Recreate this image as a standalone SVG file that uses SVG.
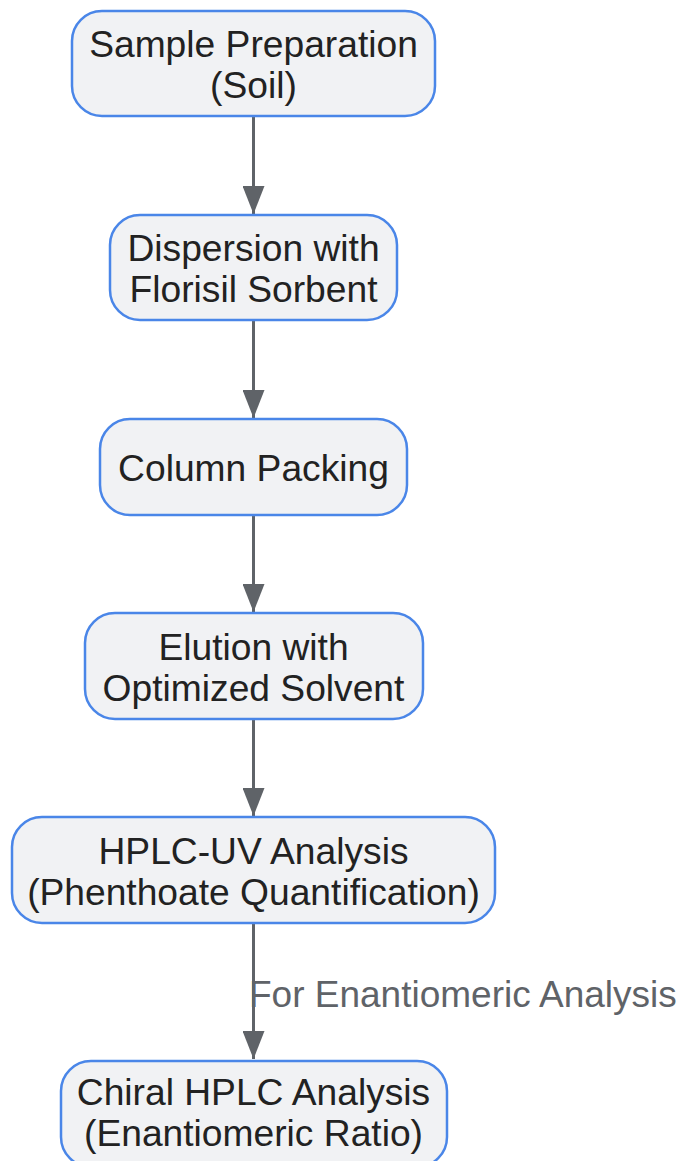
<svg xmlns="http://www.w3.org/2000/svg" width="682" height="1161" viewBox="0 0 682 1161">
<style>
.node rect{fill:#f1f2f4;stroke:#4a86e8;stroke-width:2.5}
.node text{font-family:"Liberation Sans",Arial,sans-serif;font-size:37.2px;fill:#222222;text-anchor:middle}
.edge{stroke:#5f6368;stroke-width:3;fill:none}
.elabel{font-family:"Liberation Sans",Arial,sans-serif;font-size:37px;fill:#5f6368}
</style>
<defs>
<marker id="arr" markerUnits="userSpaceOnUse" markerWidth="28" markerHeight="22" refX="28" refY="11" orient="auto">
<path d="M0,0 L28,11 L0,22 z" fill="#5f6368"/>
</marker>
</defs>
<rect width="682" height="1161" fill="#ffffff"/>
<g id="connectors">
<line class="edge" x1="253.5" y1="116" x2="253.5" y2="214" marker-end="url(#arr)"/>
<line class="edge" x1="253.5" y1="320" x2="253.5" y2="418" marker-end="url(#arr)"/>
<line class="edge" x1="253.5" y1="515" x2="253.5" y2="612" marker-end="url(#arr)"/>
<line class="edge" x1="253.5" y1="719" x2="253.5" y2="816" marker-end="url(#arr)"/>
<line class="edge" x1="253.5" y1="923" x2="253.5" y2="1059" marker-end="url(#arr)"/>
<text class="elabel" x="249" y="1007">For Enantiomeric Analysis</text>
</g>
<g id="n1" class="node">
<rect x="72" y="11" width="363" height="105" rx="30" ry="30"/>
<text x="253.5" y="57">Sample Preparation</text>
<text x="253.5" y="98">(Soil)</text>
</g>
<g id="n2" class="node">
<rect x="110" y="215" width="287" height="105" rx="30" ry="30"/>
<text x="253.5" y="261">Dispersion with</text>
<text x="253.5" y="302">Florisil Sorbent</text>
</g>
<g id="n3" class="node">
<rect x="100" y="419" width="307" height="96" rx="30" ry="30"/>
<text x="253.5" y="481">Column Packing</text>
</g>
<g id="n4" class="node">
<rect x="85" y="613" width="338" height="106" rx="30" ry="30"/>
<text x="253.5" y="660">Elution with</text>
<text x="253.5" y="701">Optimized Solvent</text>
</g>
<g id="n5" class="node">
<rect x="12" y="817" width="483" height="106" rx="30" ry="30"/>
<text x="253.5" y="864">HPLC-UV Analysis</text>
<text x="253.5" y="905">(Phenthoate Quantification)</text>
</g>
<g id="n6" class="node">
<rect x="61" y="1061" width="386" height="106" rx="30" ry="30"/>
<text x="253.5" y="1105">Chiral HPLC Analysis</text>
<text x="253.5" y="1146">(Enantiomeric Ratio)</text>
</g>
</svg>
